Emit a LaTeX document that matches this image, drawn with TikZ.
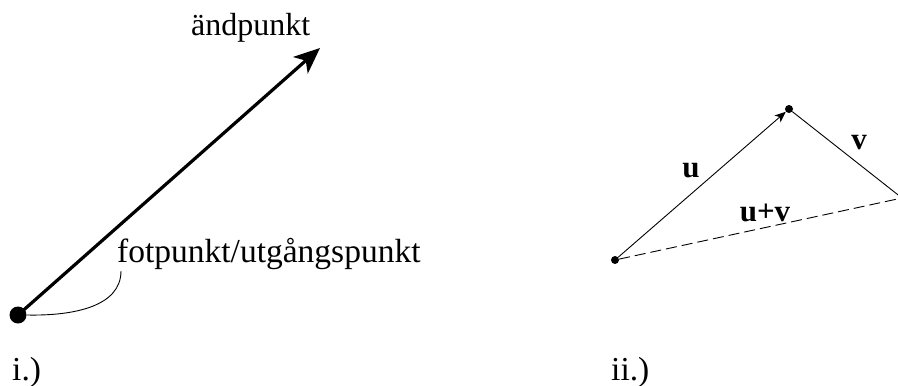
\documentclass[tikz,border=0pt]{standalone}
\usepackage{fontspec}
\setmainfont{Liberation Serif}
\usetikzlibrary{arrows.meta}
\tikzset{
  bigdot/.style={circle,fill=black,inner sep=0pt,minimum size=17pt},
  smalldot/.style={circle,fill=black,inner sep=0pt,minimum size=8pt},
  lbl/.style={inner sep=0pt,font=\fontsize{33.5}{38}\selectfont},
  vlbl/.style={inner sep=0pt,font=\fontsize{31}{35}\selectfont\bfseries},
  thinline/.style={line width=0.9pt},
}
\begin{document}
\begin{tikzpicture}[x=1pt,y=-1pt]
\useasboundingbox (0,0) rectangle (898,386);
\clip (0,0) rectangle (898,386);
% part i
\node[bigdot] (A) at (18,315) {};
\coordinate (E) at (320,48);
\draw[line width=3.2pt,-{Stealth[length=26pt,width=22pt,inset=7pt]}] (A.center) -- (E);
\node[lbl,anchor=base west,font=\fontsize{32}{36}\selectfont] (end) at (191,35) {ändpunkt};
\node[lbl,anchor=base west] (foot) at (117,262) {fotpunkt/utgångspunkt};
\coordinate (c1) at (121,271);
\draw[thinline] (c1) .. controls (121,306) and (75,316) .. (A.east);
\node[lbl,anchor=base west] (li) at (12,380) {i.)};
% part ii
\node[smalldot] (P) at (615,260) {};
\node[smalldot] (Q) at (789,109) {};
\node[smalldot] (R) at (902,198) {};
\draw[thinline,-{Stealth[length=11pt,width=9pt,inset=3pt]}] (P) -- (Q);
\draw[thinline] (Q) -- (R);
\draw[thinline,dash pattern=on 11pt off 5pt] (P) -- (R);
\node[vlbl] (lu) at (691,171) {u};
\node[vlbl] (lv) at (859,143) {v};
\node[vlbl] (luv) at (765,213) {u+v};
\node[lbl,anchor=base west] (lii) at (611,380) {ii.)};
\end{tikzpicture}
\end{document}
